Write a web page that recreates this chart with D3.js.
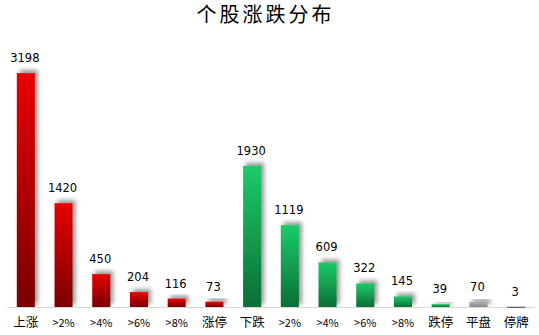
<!DOCTYPE html>
<html>
<head>
<meta charset="utf-8">
<script src="https://cdn.jsdelivr.net/npm/d3@7"></script>
<style>
  body { margin: 0; background: #fff; }
  svg { display: block; }
</style>
</head>
<body>
<svg id="chart" width="539" height="335"></svg>
<script>
const categories = ['上涨', '>2%', '>4%', '>6%', '>8%', '涨停', '下跌', '>2%', '>4%', '>6%', '>8%', '跌停', '平盘', '停牌'];
const values = [3198, 1420, 450, 204, 116, 73, 1930, 1119, 609, 322, 145, 39, 70, 3];
const groups = ['up', 'up', 'up', 'up', 'up', 'up', 'down', 'down', 'down', 'down', 'down', 'down', 'flat', 'halt'];

const svg = d3.select('#chart');
const width = 539, height = 335;
const baseY = 307, topY = 51;

const x = d3.scaleBand()
    .domain(d3.range(categories.length))
    .range([7, 535])
    .paddingInner(0.52)
    .paddingOuter(0.26);

const y = d3.scaleLinear().domain([0, 3500]).range([baseY, topY]);

const defs = svg.append('defs');

// gradients for each colour group
const grads = {
    up: ['#e80000', '#7a0000'],
    down: ['#1ccb6a', '#0b6e36'],
    flat: ['#b0b0b0', '#8a8a8a'],
    halt: ['#666', '#333']
};
Object.entries(grads).forEach(([k, c]) => {
    const lg = defs.append('linearGradient').attr('id', 'g-' + k)
        .attr('x1', 0).attr('y1', 0).attr('x2', 0).attr('y2', 1);
    lg.append('stop').attr('offset', '0%').attr('stop-color', c[0]);
    lg.append('stop').attr('offset', '100%').attr('stop-color', c[1]);
});

const shadow = defs.append('filter').attr('id', 'shadow')
    .attr('x', '-50%').attr('y', '-50%').attr('width', '200%').attr('height', '200%');
shadow.append('feDropShadow')
    .attr('dx', 3).attr('dy', -3)
    .attr('stdDeviation', 2)
    .attr('flood-color', '#555')
    .attr('flood-opacity', 0.6);

// title
svg.append('text')
    .attr('x', width / 2 - 4)
    .attr('y', 22)
    .attr('text-anchor', 'middle')
    .style('font-family', '"Noto Sans CJK SC", sans-serif')
    .style('font-size', '20px')
    .style('letter-spacing', '3px')
    .style('fill', '#000')
    .text('个股涨跌分布');

// baseline
svg.append('line')
    .attr('x1', 7).attr('x2', 535)
    .attr('y1', baseY + 0.5).attr('y2', baseY + 0.5)
    .style('stroke', '#d9d9d9')
    .style('stroke-width', 1);

// bars
svg.selectAll('rect.bar')
    .data(values)
    .enter()
    .append('rect')
    .attr('class', 'bar')
    .attr('x', (d, i) => x(i))
    .attr('width', x.bandwidth())
    .attr('y', d => y(d))
    .attr('height', d => Math.max(baseY - y(d), 1))
    .attr('filter', 'url(#shadow)')
    .style('fill', (d, i) => `url(#g-${groups[i]})`);

// value labels
svg.selectAll('text.val')
    .data(values)
    .enter()
    .append('text')
    .attr('class', 'val')
    .attr('x', (d, i) => x(i) + x.bandwidth() / 2 - 1)
    .attr('y', d => y(d) - 11)
    .attr('text-anchor', 'middle')
    .style('font-family', '"DejaVu Sans", sans-serif')
    .style('font-size', '11.5px')
    .style('fill', '#000')
    .text(d => d);

// category labels
svg.selectAll('text.cat')
    .data(categories)
    .enter()
    .append('text')
    .attr('class', 'cat')
    .attr('x', (d, i) => x(i) + x.bandwidth() / 2)
    .attr('y', 327)
    .attr('text-anchor', 'middle')
    .style('font-family', '"Noto Sans CJK SC", "DejaVu Sans", sans-serif')
    .style('font-size', (d) => /%/.test(d) ? '11px' : '12.5px')
    .style('fill', '#000')
    .text(d => d);
</script>
</body>
</html>
